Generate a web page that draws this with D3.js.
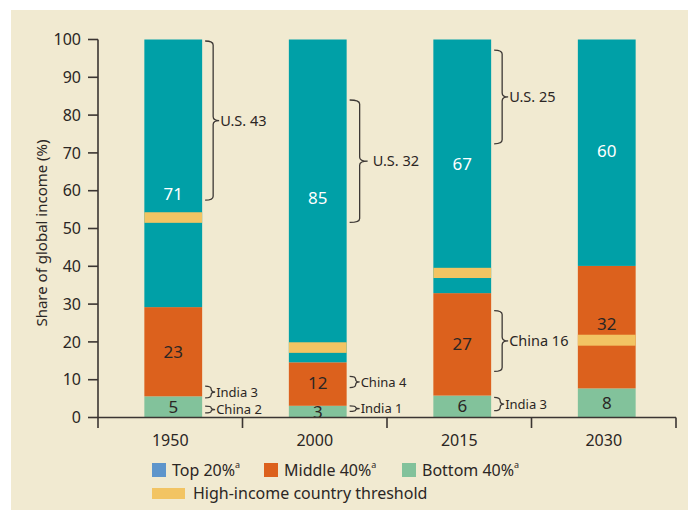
<!DOCTYPE html>
<html>
<head>
<meta charset="utf-8">
<script src="https://cdn.jsdelivr.net/npm/d3@7"></script>
<style>
  body { margin: 0; background: #fff; }
  text { font-family: "Noto Sans", "Open Sans", sans-serif; fill: #2b2624; }
</style>
</head>
<body>
<svg id="chart" width="688" height="510"></svg>
<script>
// data
const years = ["1950", "2000", "2015", "2030"];
const bottom40 = [5.6, 3.1, 5.8, 7.7];
const middle40 = [23.6, 11.5, 27.1, 32.4];
const top20 = [70.8, 85.4, 67.1, 59.9];
const bottomLabels = [5, 3, 6, 8];
const middleLabels = [23, 12, 27, 32];
const topLabels = [71, 85, 67, 60];
const middleLabelAt = [17.4, 9.2, 19.3, 24.8];
const topLabelAt = [59, 58, 67, 70.5];
const thresholdLo = [51.5, 17.1, 36.9, 19.0];
const thresholdHi = [54.3, 19.9, 39.6, 21.9];
const yTicks = [0, 10, 20, 30, 40, 50, 60, 70, 80, 90, 100];

// country shares (year, from, to, label)
const braceYear = ["1950", "1950", "1950", "2000", "2000", "2000", "2015", "2015", "2015"];
const braceFrom = [57.5, 5.2, 1.2, 51.6, 7.9, 1.6, 72.4, 12.2, 1.8];
const braceTo = [99.6, 8.3, 3.0, 84.0, 10.9, 3.1, 97.2, 28.3, 5.3];
const braceText = ["U.S. 43", "India 3", "China 2", "U.S. 32", "China 4", "India 1", "U.S. 25", "China 16", "India 3"];

const colTop = "#00a0a7", colMid = "#dc611d", colBot = "#82c29b", colThr = "#f2c463", colBlue = "#5e95cb";
const axisCol = "#3b3532";

let svg = d3.select("#chart");

svg.append("rect")
    .attr("x", 11).attr("y", 10)
    .attr("width", 677).attr("height", 500)
    .attr("fill", "#f1ead1");

let y = d3.scaleLinear().domain([0, 100]).range([417.5, 39.5]);
let xAx = d3.scaleBand().domain(years).range([98, 676]);
let xBar = d3.scaleBand().domain(years).range([101, 679]).paddingInner(0.6).paddingOuter(0.3);

let rows = years.map((yr, i) => ({year: yr, bottom: bottom40[i], middle: middle40[i], top: top20[i], i: i}));
let stack = d3.stack().keys(["bottom", "middle", "top"])(rows);
let colors = {bottom: colBot, middle: colMid, top: colTop};

// bars
svg.append("g").selectAll("g")
    .data(stack)
    .join("g")
    .attr("fill", d => colors[d.key])
    .selectAll("rect")
    .data(d => d)
    .join("rect")
    .attr("x", d => xBar(d.data.year))
    .attr("width", xBar.bandwidth())
    .attr("y", d => y(d[1]))
    .attr("height", d => y(d[0]) - y(d[1]));

// threshold bands
svg.append("g").selectAll("rect")
    .data(years)
    .join("rect")
    .attr("x", d => xBar(d))
    .attr("width", xBar.bandwidth())
    .attr("y", (d, i) => y(thresholdHi[i]))
    .attr("height", (d, i) => y(thresholdLo[i]) - y(thresholdHi[i]))
    .attr("fill", colThr);

// segment labels
let lab = svg.append("g").attr("font-size", 17).attr("text-anchor", "middle");
rows.forEach((r, i) => {
    let cx = xBar(r.year) + xBar.bandwidth() / 2;
    lab.append("text").attr("x", cx).attr("y", y(r.bottom / 2)).attr("dy", "0.35em")
        .text(bottomLabels[i]);
    lab.append("text").attr("x", cx).attr("y", y(middleLabelAt[i])).attr("dy", "0.35em")
        .text(middleLabels[i]);
    lab.append("text").attr("x", cx).attr("y", y(topLabelAt[i])).attr("dy", "0.35em")
        .style("fill", "#fff")
        .text(topLabels[i]);
});

// braces
function bracePath(x0, yT, yB, w, t) {
    let ym = (yT + yB) / 2;
    let x1 = x0 + w;
    let r = Math.min(4, (yB - yT) / 4);
    return "M" + x0 + "," + yT +
        "Q" + x1 + "," + yT + " " + x1 + "," + (yT + r) +
        "L" + x1 + "," + (ym - r) +
        "Q" + x1 + "," + ym + " " + (x1 + t) + "," + ym +
        "Q" + x1 + "," + ym + " " + x1 + "," + (ym + r) +
        "L" + x1 + "," + (yB - r) +
        "Q" + x1 + "," + yB + " " + x0 + "," + yB;
}

let br = svg.append("g");
braceYear.forEach((yr, i) => {
    let x0 = xBar(yr) + xBar.bandwidth() + 3;
    let yT = y(braceTo[i]), yB = y(braceFrom[i]);
    let h = yB - yT;
    let w = h > 60 ? (yr == "2000" ? 10 : 8) : 6;
    let t = h > 60 ? (yr == "2000" ? 8 : 6) : 4;
    br.append("path")
        .attr("d", bracePath(x0, yT, yB, w, t))
        .attr("fill", "none")
        .attr("stroke", "#3d3835")
        .attr("stroke-width", 1.3);
    br.append("text")
        .attr("x", x0 + w + t + (yr == "2000" && h > 60 ? 5 : 1))
        .attr("y", (yT + yB) / 2)
        .attr("dy", "0.35em")
        .attr("font-size", h < 20 ? 13 : 14.5)
        .text(braceText[i]);
});

// y axis
let ya = svg.append("g");
ya.append("line").attr("x1", 98).attr("x2", 98).attr("y1", y(100)).attr("y2", 428)
    .attr("stroke", axisCol).attr("stroke-width", 1.6);
ya.selectAll("line.tk").data(yTicks).join("line").attr("class", "tk")
    .attr("x1", 88).attr("x2", 98)
    .attr("y1", d => y(d)).attr("y2", d => y(d))
    .attr("stroke", axisCol).attr("stroke-width", 1.6);
ya.selectAll("text").data(yTicks).join("text")
    .attr("x", 81).attr("y", d => y(d)).attr("dy", "0.35em")
    .attr("text-anchor", "end").attr("font-size", 16)
    .text(d => d);

svg.append("text")
    .attr("transform", "translate(47," + 233 + ") rotate(-90)")
    .attr("text-anchor", "middle")
    .attr("font-size", 15)
    .text("Share of global income (%)");

// x axis
let xa = svg.append("g");
xa.append("line").attr("x1", 98).attr("x2", 676).attr("y1", y(0)).attr("y2", y(0))
    .attr("stroke", axisCol).attr("stroke-width", 1.6);
xa.selectAll("line.tk").data(years).join("line").attr("class", "tk")
    .attr("x1", d => xAx(d) + xAx.bandwidth()).attr("x2", d => xAx(d) + xAx.bandwidth())
    .attr("y1", y(0)).attr("y2", 428)
    .attr("stroke", axisCol).attr("stroke-width", 1.6);
xa.selectAll("text").data(years).join("text")
    .attr("x", d => xAx(d) + xAx.bandwidth() / 2)
    .attr("y", 446)
    .attr("text-anchor", "middle").attr("font-size", 16)
    .text(d => d);

// legend
const legendNames = ["Top 20%", "Middle 40%", "Bottom 40%"];
const legendCols = [colBlue, colMid, colBot];
const legendX = [152, 264, 402];
let lg = svg.append("g").attr("font-size", 16);
legendNames.forEach((n, i) => {
    lg.append("rect").attr("x", legendX[i]).attr("y", 463).attr("width", 14).attr("height", 14)
        .attr("fill", legendCols[i]);
    let t = lg.append("text").attr("x", legendX[i] + 20).attr("y", 470).attr("dy", "0.35em").text(n);
    t.append("tspan").attr("font-size", 9).attr("dy", "-0.9em").text("a");
});
lg.append("rect").attr("x", 152).attr("y", 488).attr("width", 33).attr("height", 11).attr("fill", colThr);
lg.append("text").attr("x", 193).attr("y", 493.5).attr("dy", "0.35em").text("High-income country threshold");
</script>
</body>
</html>
